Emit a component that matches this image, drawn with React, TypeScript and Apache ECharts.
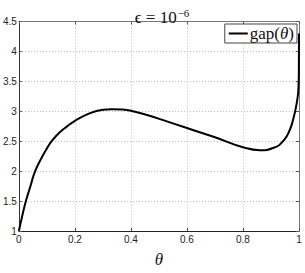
import React, { useEffect, useRef } from "react";
import * as echarts from "echarts";

const thetaValues = [0, 0.011, 0.025, 0.04, 0.058, 0.084, 0.1, 0.117, 0.144, 0.17, 0.2, 0.25, 0.3, 0.33, 0.37, 0.4, 0.47, 0.51, 0.6, 0.7, 0.8, 0.86, 0.91, 0.945, 0.968, 0.98, 0.988, 0.994, 0.998, 0.9995, 1.0];
const gapValues = [1, 1.235, 1.5, 1.73, 2.0, 2.25, 2.38, 2.5, 2.64, 2.74, 2.84, 2.96, 3.025, 3.035, 3.03, 3.01, 2.92, 2.86, 2.72, 2.566, 2.4, 2.35, 2.39, 2.51, 2.7, 2.88, 3.04, 3.2, 3.38, 3.7, 4.3];
const seriesName = "gap(θ)";
const titleText = "ϵ = 10";
const titleExp = "−6";
const xAxisName = "θ";

export default function App() {
  const ref = useRef<HTMLDivElement>(null);
  useEffect(() => {
    if (!ref.current) return;
    const chart = echarts.init(ref.current, null, { renderer: "svg" });
    const data = thetaValues.map((t, i) => [t, gapValues[i]]);
    const gridLine = { show: true, lineStyle: { type: [1, 2], color: "#bbb", width: 1 } };
    const tick = { show: true, inside: true, length: 3, lineStyle: { color: "#555" } };
    const label = { fontFamily: "Liberation Sans", fontSize: 10, color: "#222" };
    chart.setOption({
      animation: false,
      backgroundColor: "#fff",
      title: {
        text: `{a|${titleText}}{b|${titleExp}}`,
        left: 157,
        textAlign: "center",
        top: 2,
        textStyle: {
          fontWeight: "normal",
          rich: {
            a: { fontFamily: "Liberation Serif", fontSize: 17, fontWeight: "normal", color: "#111" },
            b: { fontFamily: "Liberation Serif", fontSize: 11, fontWeight: "normal", color: "#111", verticalAlign: "top", padding: [0, 0, 9, 1] },
          },
        },
      },
      legend: {
        right: 8,
        top: 24,
        orient: "vertical",
        backgroundColor: "#fff",
        borderColor: "#444",
        borderWidth: 1,
        borderRadius: 0,
        padding: [1, 3, 1, 4],
        itemWidth: 19,
        itemHeight: 2,
        itemGap: 0,
        icon: "rect",
        data: [seriesName],
        formatter: () => `{a|gap(}{b|θ}{a|)}`,
        textStyle: {
          padding: [0, 0, 0, -3],
          rich: {
            a: { fontFamily: "Liberation Serif", fontSize: 17, color: "#111" },
            b: { fontFamily: "Liberation Serif", fontStyle: "italic", fontSize: 17, color: "#111" },
          },
        },
      },
      grid: {
        left: 15.5,
        right: 6,
        top: 21.5,
        bottom: 28,
        containLabel: false,
      },
      xAxis: [
        {
          type: "value",
          min: 0,
          max: 1,
          interval: 0.2,
          name: xAxisName,
          nameLocation: "middle",
          nameGap: 20,
          nameTextStyle: { fontFamily: "Liberation Serif", fontStyle: "italic", fontSize: 17, color: "#111" },
          axisLine: { show: true, lineStyle: { color: "#222", width: 1 } },
          axisTick: tick,
          axisLabel: { ...label, margin: 3 },
          splitLine: gridLine,
        },
        {
          type: "value",
          position: "top",
          min: 0,
          max: 1,
          interval: 0.2,
          axisLine: { show: true, onZero: false, lineStyle: { color: "#777", width: 1 } },
          axisTick: tick,
          axisLabel: { show: false },
          splitLine: { show: false },
        },
      ],
      yAxis: [
        {
          type: "value",
          min: 1,
          max: 4.5,
          interval: 0.5,
          axisLine: { show: true, lineStyle: { color: "#333", width: 1 } },
          axisTick: tick,
          axisLabel: { ...label, margin: 2 },
          splitLine: gridLine,
        },
        {
          type: "value",
          position: "right",
          min: 1,
          max: 4.5,
          interval: 0.5,
          axisLine: { show: true, onZero: false, lineStyle: { color: "#777", width: 1 } },
          axisTick: tick,
          axisLabel: { show: false },
          splitLine: { show: false },
        },
      ],
      series: [
        {
          name: seriesName,
          type: "line",
          data,
          showSymbol: false,
          smooth: 0.5,
          lineStyle: { color: "#000", width: 2 },
          itemStyle: { color: "#000" },
        },
      ],
    });
    return () => chart.dispose();
  }, []);
  return (
    <div
      ref={ref}
      style={{ position: "fixed", left: 0, top: 0, width: 305, height: 273 }}
    />
  );
}
